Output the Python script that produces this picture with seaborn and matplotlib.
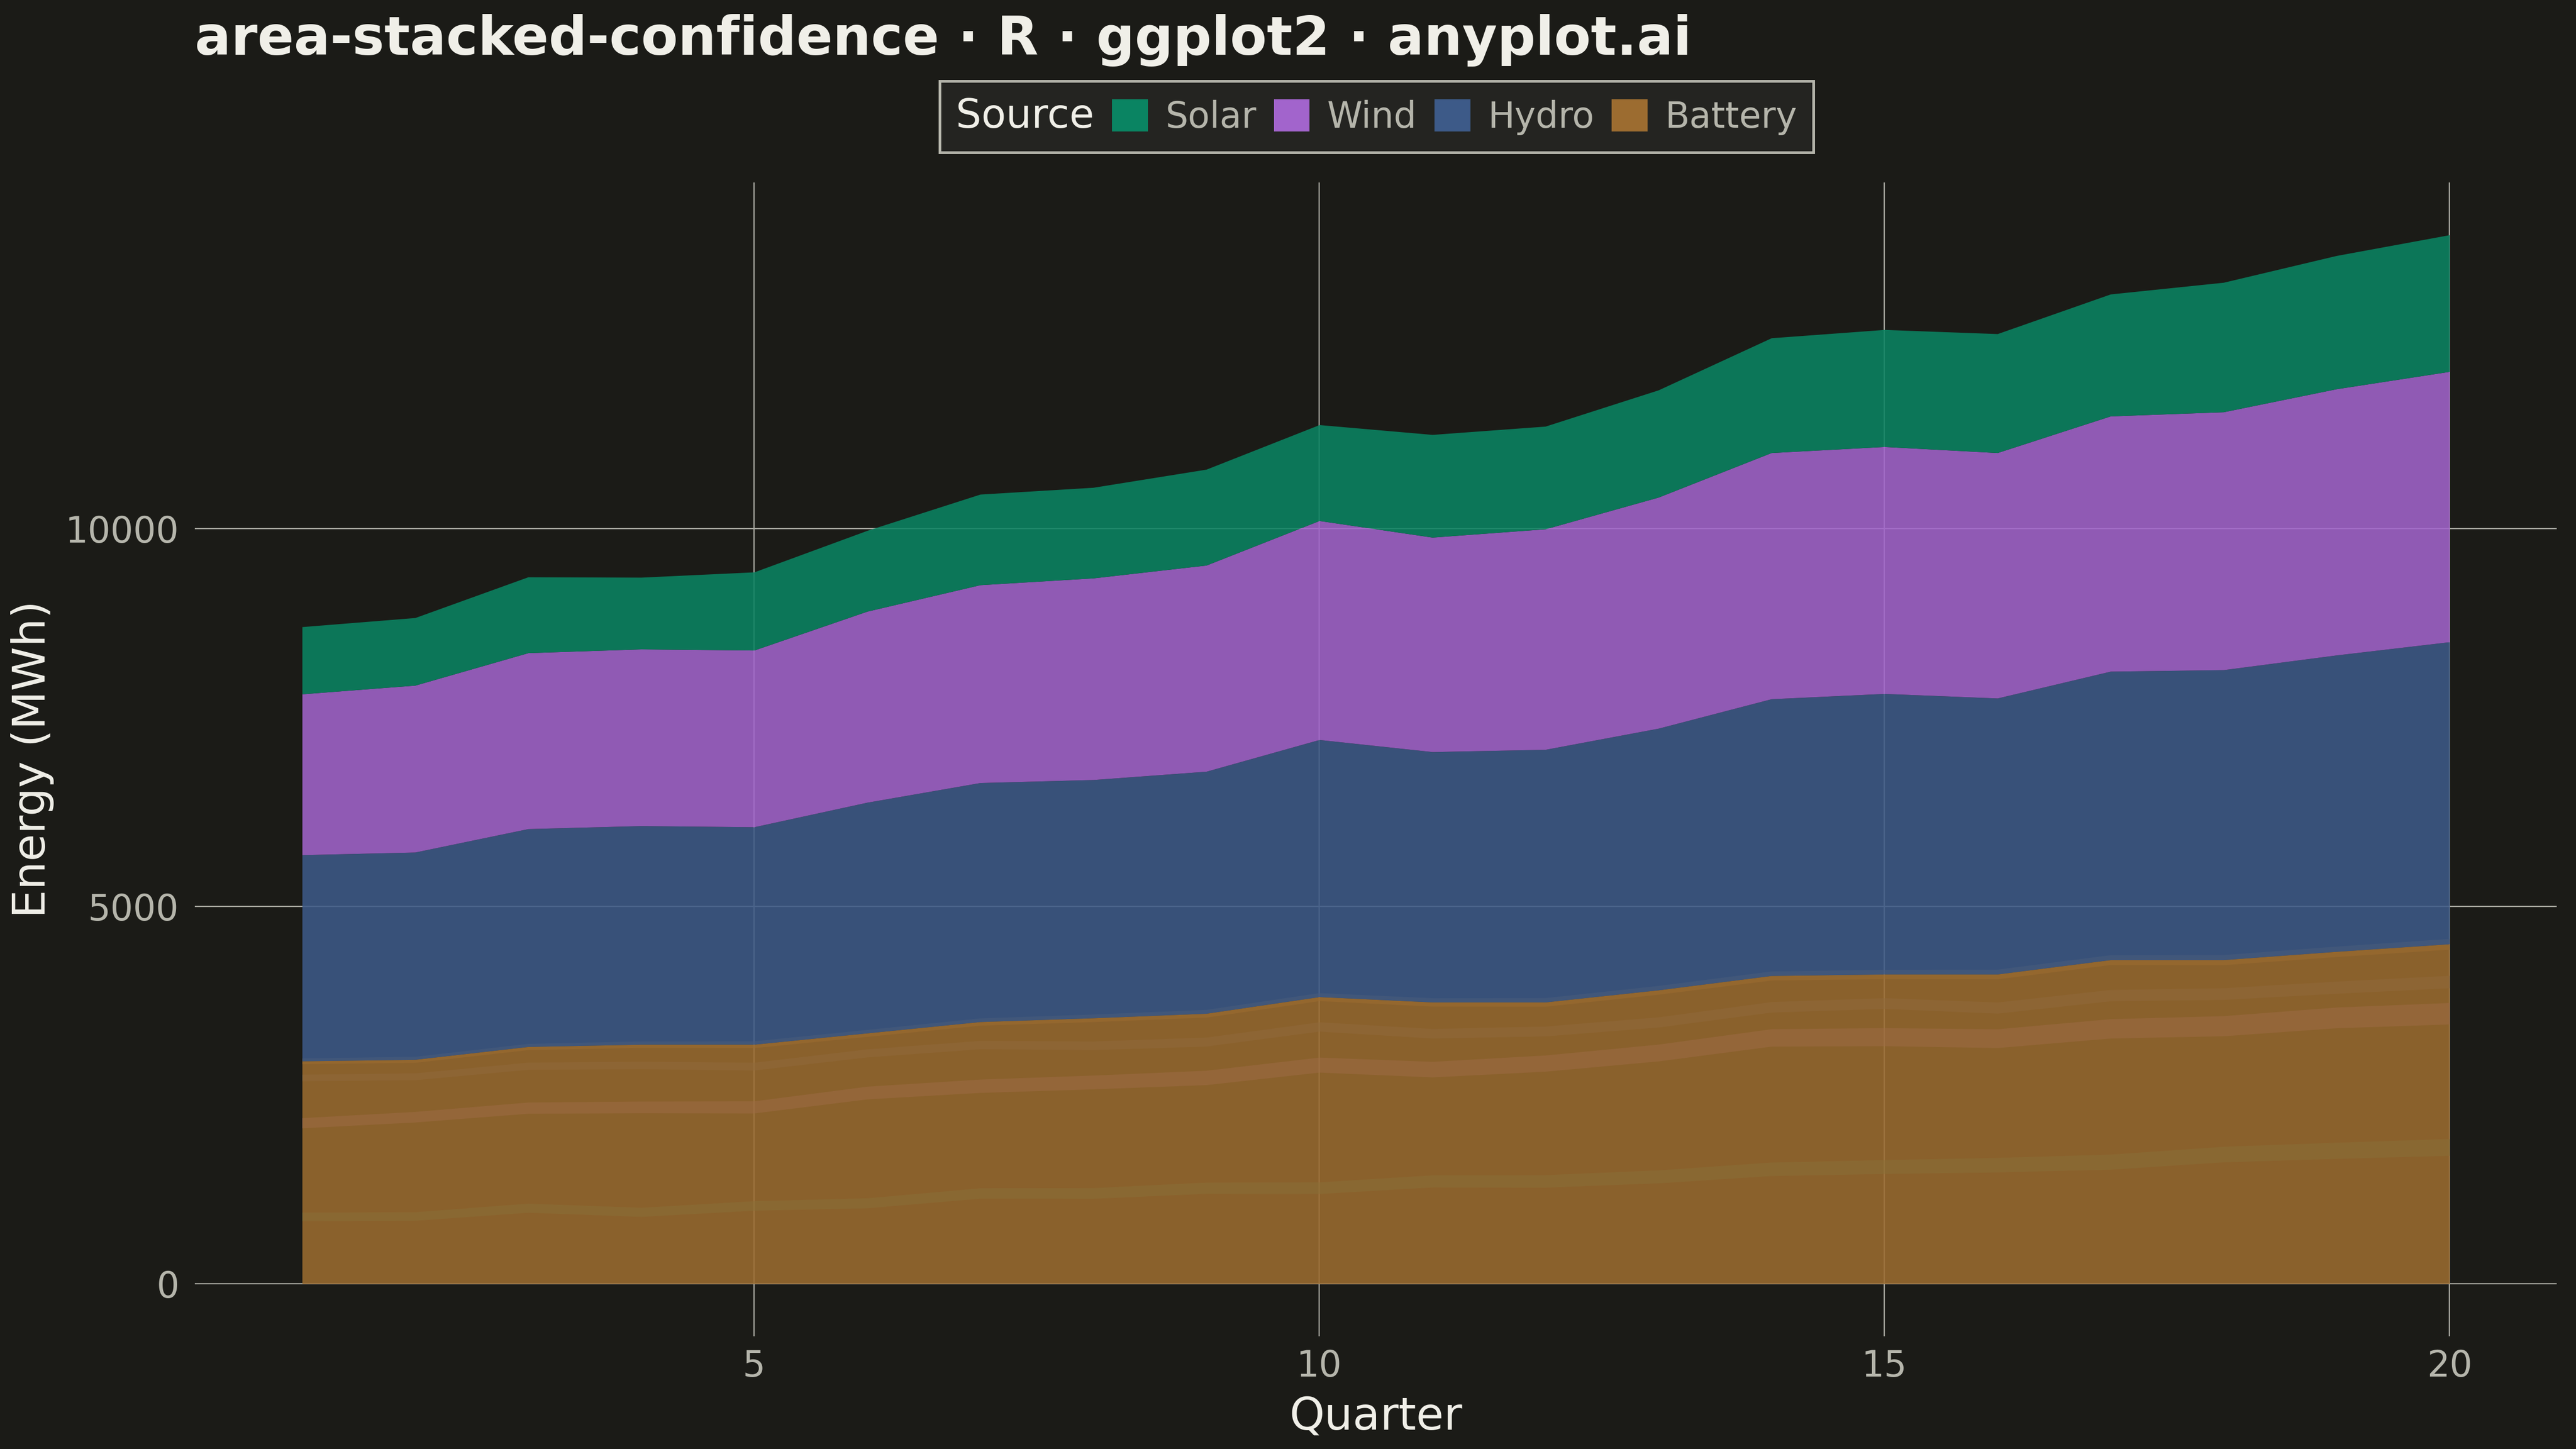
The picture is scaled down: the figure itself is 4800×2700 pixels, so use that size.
import matplotlib
matplotlib.use('Agg')
import numpy as np
import pandas as pd
import matplotlib.pyplot as plt
import seaborn as sns
from matplotlib.patches import Patch

# Dane
quarters = list(range(1, 21))
sources = ['Solar', 'Wind', 'Hydro', 'Battery']

battery = [2950, 2970, 3140, 3170, 3170, 3320, 3470, 3520, 3580, 3800,
           3730, 3730, 3890, 4080, 4100, 4100, 4290, 4290, 4400, 4500]
hydro = [2730, 2745, 2885, 2895, 2880, 3055, 3165, 3155, 3205, 3405,
         3315, 3345, 3465, 3665, 3715, 3655, 3820, 3840, 3925, 4000]
wind = [2130, 2210, 2330, 2340, 2340, 2530, 2620, 2670, 2730, 2900,
        2840, 2920, 3060, 3260, 3270, 3250, 3380, 3415, 3525, 3580]
solar = [890, 895, 1005, 950, 1035, 1070, 1200, 1200, 1270, 1270,
         1360, 1360, 1420, 1520, 1550, 1575, 1615, 1715, 1765, 1810]

# Połowa szerokości przedziału ufności
solar_hw = [56, 57, 60, 60, 63, 66, 69, 71, 74, 77, 80, 83, 86, 89, 92, 96, 100, 103, 107, 111]
wind_hw = [67, 70, 74, 77, 80, 84, 88, 91, 95, 99, 103, 107, 111, 115, 119, 124, 128, 133, 137, 142]
hydro_hw = [43, 45, 47, 49, 51, 53, 55, 57, 59, 61, 63, 65, 67, 69, 71, 73, 75, 77, 80, 82]
battery_hw = [38, 40, 41, 43, 45, 46, 48, 50, 51, 53, 55, 57, 58, 60, 62, 64, 65, 67, 69, 71]

palette = {'Solar': '#0a8462', 'Wind': '#a264cc', 'Hydro': '#3d5a88', 'Battery': '#9c6c30'}

BG = '#1b1b17'
FG = '#f0efe8'
MUTED = '#b5b5ab'
GRID = '#a9a9a1'

sns.set_theme(style='dark', rc={
    'figure.facecolor': BG,
    'axes.facecolor': BG,
    'savefig.facecolor': BG,
    'text.color': FG,
    'axes.labelcolor': FG,
    'xtick.color': MUTED,
    'ytick.color': MUTED,
})
plt.rcParams['font.family'] = ['DejaVu Sans']

# Dane do wstęg (min / środek / max dla każdego kwartału)
rows = []
for name, vals, hw in [('Solar', solar, solar_hw), ('Wind', wind, wind_hw),
                       ('Hydro', hydro, hydro_hw), ('Battery', battery, battery_hw)]:
    for q, v, h in zip(quarters, vals, hw):
        rows.append((q, name, v - h))
        rows.append((q, name, v))
        rows.append((q, name, v + h))
ci = pd.DataFrame(rows, columns=['quarter', 'source', 'energy'])

fig = plt.figure(figsize=(16, 9), dpi=300)
ax = fig.add_axes([0.0756, 0.0778, 0.917, 0.7963])

# Wstęgi przedziałów ufności (niestosowane, pod warstwami)
sns.lineplot(data=ci, x='quarter', y='energy', hue='source', hue_order=sources,
             palette=palette, estimator='median', errorbar=('pi', 100),
             linewidth=0, err_kws={'alpha': 0.55, 'linewidth': 0},
             legend=False, ax=ax)

# Warstwy skumulowane
ax.stackplot(quarters, battery, hydro, wind, solar,
             colors=[palette['Battery'], palette['Hydro'], palette['Wind'], palette['Solar']],
             alpha=0.87, linewidth=0)

top = max(np.array(battery) + np.array(hydro) + np.array(wind) + np.array(solar))
ax.set_xlim(0.05, 20.95)
ax.set_ylim(-0.05 * top, 1.05 * top)
ax.set_xticks([5, 10, 15, 20])
ax.set_yticks([0, 5000, 10000])
ax.tick_params(axis='both', length=0, labelsize=16, colors=MUTED)
ax.tick_params(axis='x', pad=5.5)
ax.tick_params(axis='y', pad=7)
ax.grid(True, color=GRID, linewidth=0.55)
ax.set_axisbelow(True)
for s in ax.spines.values():
    s.set_visible(False)

ax.set_xlabel('Quarter', fontsize=20, color=FG, labelpad=5)
ax.set_ylabel('Energy (MWh)', fontsize=20, color=FG, labelpad=5)

fig.text(0.0756, 1 - 102 / 2700, 'area-stacked-confidence · R · ggplot2 · anyplot.ai',
         fontsize=24, fontweight='bold', color=FG, ha='left', va='baseline')

# Legenda pozioma z tytułem w linii
handles = [Patch(facecolor='none', edgecolor='none')] + \
          [Patch(facecolor=palette[s], edgecolor='none') for s in sources]
labels = ['Source'] + sources
leg = fig.legend(handles, labels, loc='center', bbox_to_anchor=(0.5344, 0.9196),
                 ncol=5, frameon=True, fancybox=False, fontsize=16,
                 handlelength=1.0, handleheight=1.0, handletextpad=0.49,
                 columnspacing=0.49, borderpad=0.45, borderaxespad=0)
frame = leg.get_frame()
frame.set_facecolor('#242421')
frame.set_edgecolor(MUTED)
frame.set_linewidth(1.2)
frame.set_alpha(1)
texts = leg.get_texts()
texts[0].set_color(FG)
texts[0].set_fontsize(18)
for t in texts[1:]:
    t.set_color(MUTED)
first = leg._legend_handle_box.get_children()[0].get_children()[0]
first.get_children()[0].width = 0
first.sep = 0

fig.savefig('out.png', dpi=300, facecolor=BG)
